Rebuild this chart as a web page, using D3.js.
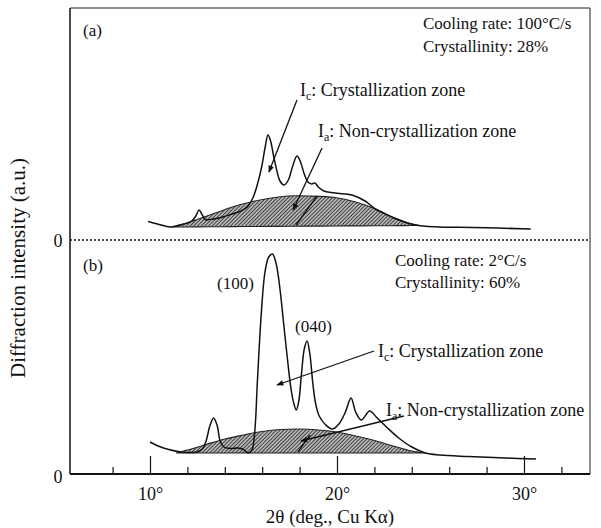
<!DOCTYPE html>
<html><head><meta charset="utf-8">
<script src="https://cdn.jsdelivr.net/npm/d3@7"></script>
<style>
body{margin:0;background:#fff;}
text{font-family:"Liberation Serif","Times New Roman",serif;fill:#111;}
</style></head>
<body>
<svg id="c" width="601" height="528"></svg>
<script>
// ---- data (2θ in degrees, intensity in arbitrary units) ----
const angleA = [9.9,10.4,11.1,11.7,12.2,12.45,12.62,12.8,12.95,13.4,13.9,14.4,14.8,15.2,15.5,15.75,15.97,16.15,16.31,16.45,16.6,16.8,16.95,17.17,17.4,17.6,17.86,18.05,18.25,18.45,18.65,18.82,19.0,19.3,19.7,20.05,20.8,21.5,22.06,22.6,23.07,24.17,25.5,27.3,30.36];
const intensityA = [18.5,16,13,15.5,18.5,24,30,25,20.5,21,23,26,28.5,33,42,56,73,92,105,99,85,68,59,55,60,72,84,78,66,58,56,57,53,49,47.5,46.7,45,39,31,26,22,15,13,12.5,11];
const humpAngleA = [11.15,11.8,12.6,13.5,14.4,15.5,16.5,17.4,18.5,19.9,21.0,22.06,22.8,23.6,24.4];
const humpA = [13,16,21,27,33,38.5,42,44,44,42.5,38,31,24,18,14.5];

const angleB = [10.0,10.5,11.0,11.5,12.0,12.5,12.8,13.0,13.2,13.4,13.6,13.75,13.95,14.3,14.7,15.0,15.25,15.45,15.6,15.75,15.95,16.15,16.35,16.55,16.75,16.95,17.15,17.35,17.55,17.7,17.82,17.95,18.1,18.25,18.4,18.55,18.7,18.85,19.05,19.4,19.75,20.1,20.45,20.75,21.0,21.3,21.75,22.1,22.7,23.3,24.0,24.73,25.5,27.0,29.0,30.64];
const intensityB = [32,27.5,24.5,22.5,21.5,22,25,33,48,56,48,33,27,25.5,26,24.5,21,24,42,95,160,202,217,220,210,185,150,115,84,70,64,72,100,125,133,120,92,71,58,49,45,50,62,76,62,54,63,57,46,36,27,21,19,17.5,16,15];
const humpAngleB = [11.4,12.0,13.0,14.0,15.0,16.0,17.0,18.0,19.0,20.0,21.0,22.0,23.0,24.0,24.73];
const humpB = [21,24,29.5,35,39,42.5,44.5,45,44,42,38,33.5,28,23,21];

const majorTicks = [10,20,30];
const minorTicks = [8,12,14,16,18,22,24,26,28,32];
const tickLabels = ["10°","20°","30°"];

// ---- layout ----
const svg = d3.select("#c");
const L=70, R=590, T=8, Z=240, B=474;
const FS = "17px", FSI = "18px";
const x = d3.scaleLinear().domain([5.722,33.53]).range([L,R]);
const yA = d3.scaleLinear().domain([0,232]).range([Z,T]);
const yB = d3.scaleLinear().domain([0,234]).range([B,Z]);

const defs = svg.append("defs");
const pat = defs.append("pattern").attr("id","hatch").attr("patternUnits","userSpaceOnUse")
  .attr("width",2.6).attr("height",2.6).attr("patternTransform","rotate(45)");
pat.append("rect").attr("width",2.6).attr("height",2.6).attr("fill","#b4b4b4");
pat.append("line").attr("x1",0).attr("y1",0).attr("x2",0).attr("y2",2.6).attr("stroke","#111").attr("stroke-width",1.3);
defs.append("marker").attr("id","ah").attr("viewBox","0 0 10 10").attr("refX",9).attr("refY",5)
  .attr("markerWidth",10).attr("markerHeight",7).attr("markerUnits","userSpaceOnUse").attr("orient","auto")
  .append("path").attr("d","M0,1 L10,5 L0,9 Z").attr("fill","#111");

// frame
svg.append("line").attr("x1",L).attr("y1",T).attr("x2",R).attr("y2",T).attr("stroke","#222").attr("stroke-width",1);
svg.append("line").attr("x1",R).attr("y1",T).attr("x2",R).attr("y2",B).attr("stroke","#222").attr("stroke-width",1);
svg.append("line").attr("x1",L).attr("y1",T).attr("x2",L).attr("y2",B).attr("stroke","#111").attr("stroke-width",1.5);
svg.append("line").attr("x1",L).attr("y1",Z).attr("x2",R).attr("y2",Z).attr("stroke","#111").attr("stroke-width",1.6).attr("stroke-dasharray","2,2");

// x axis
const xAxis = d3.axisBottom(x).tickValues(majorTicks).tickSize(-18).tickFormat((d,i)=>tickLabels[i]);
const ax = svg.append("g").attr("transform",`translate(0,${B})`).call(xAxis);
ax.select(".domain").attr("d",`M${L},0H${R}`).attr("stroke","#111").attr("stroke-width",2.2);
ax.selectAll(".tick line").attr("stroke","#111").attr("stroke-width",1.2);
ax.selectAll(".tick text").attr("y",13).attr("dy","0.71em").style("font-family","Liberation Serif").style("font-size","18px").attr("fill","#111");
const axm = d3.axisBottom(x).tickValues(minorTicks).tickSize(-7).tickFormat("");
const gm = svg.append("g").attr("transform",`translate(0,${B})`).call(axm);
gm.select(".domain").remove();
gm.selectAll(".tick line").attr("stroke","#111").attr("stroke-width",1.2);

// zero labels
svg.append("text").attr("x",58).attr("y",Z+7).attr("text-anchor","middle").style("font-size","18px").text("0");
svg.append("text").attr("x",58).attr("y",B+9).attr("text-anchor","middle").style("font-size","18px").text("0");

// axis titles
svg.append("text").attr("x",330).attr("y",523).attr("text-anchor","middle").style("font-size","19px").text("2θ (deg., Cu Kα)");
svg.append("text").attr("transform","translate(25,268) rotate(-90)").attr("text-anchor","middle").style("font-size","21px").text("Diffraction intensity (a.u.)");

function panel(ang, inten, hAng, hump, y){
  const area = d3.area().x((d,i)=>x(hAng[i])).y0((d,i)=>{
      const t=(hAng[i]-hAng[0])/(hAng[hAng.length-1]-hAng[0]);
      return y(hump[0]+(hump[hump.length-1]-hump[0])*t);}).y1(d=>y(d)).curve(d3.curveCatmullRom);
  svg.append("path").datum(hump).attr("d",area).attr("fill","url(#hatch)").attr("stroke","#222").attr("stroke-width",1.1);
  const line = d3.line().x((d,i)=>x(ang[i])).y(d=>y(d)).curve(d3.curveCatmullRom.alpha(0.5));
  svg.append("path").datum(inten).attr("d",line).attr("fill","none").attr("stroke","#111").attr("stroke-width",1.5);
}
panel(angleA,intensityA,humpAngleA,humpA,yA);
panel(angleB,intensityB,humpAngleB,humpB,yB);

// annotation arrows [x0,v0,x1,v1]
function arrow(a,y,head){
  svg.append("line").attr("x1",x(a[0])).attr("y1",y(a[1])).attr("x2",x(a[2])).attr("y2",y(a[3]))
    .attr("stroke","#111").attr("stroke-width",1.3).attr("marker-end",head?"url(#ah)":null);
}
arrow([17.86,140,16.36,68],yA,true);
arrow([19.20,92,17.65,30],yA,true);
arrow([17.81,15,18.93,44],yA,false);
arrow([21.98,123,16.79,89],yB,true);
arrow([23.58,58,18.07,33],yB,true);
arrow([17.91,22,18.56,39],yB,false);

function txt(px,py,s){ return svg.append("text").attr("x",px).attr("y",py).style("font-size",FS).text(s); }
function subLabel(px,py,main,sub,rest){
  const t=svg.append("text").attr("x",px).attr("y",py).style("font-size",FSI);
  t.append("tspan").text(main);
  t.append("tspan").attr("dy",4).style("font-size","12px").text(sub);
  t.append("tspan").attr("dy",-4).text(rest);
}
txt(83,36,"(a)");
txt(423,29,"Cooling rate: 100°C/s");
txt(423,52,"Crystallinity: 28%");
subLabel(300,96,"I","c",": Crystallization zone");
subLabel(318,137,"I","a",": Non-crystallization zone");

txt(83,271,"(b)");
txt(395,266,"Cooling rate: 2°C/s");
txt(395,288,"Crystallinity: 60%");
txt(217,289,"(100)");
txt(295,332,"(040)");
subLabel(378,357,"I","c",": Crystallization zone");
subLabel(386,416,"I","a",": Non-crystallization zone");
</script>
</body></html>
